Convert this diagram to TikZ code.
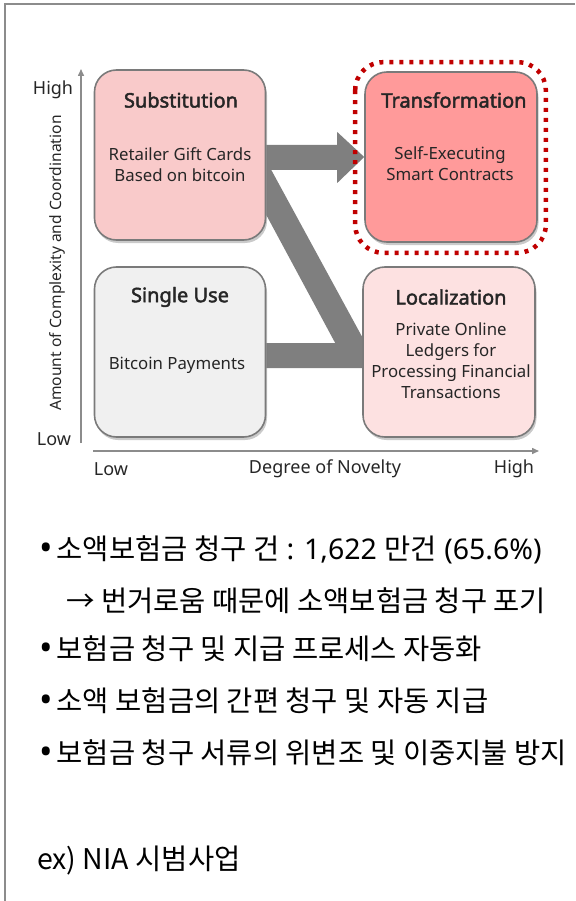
\documentclass[tikz,border=0pt]{standalone}
\usepackage{fontspec}
\setmainfont{Noto Sans}[AutoFakeBold=2.2]
\newfontfamily\kr{Noto Sans CJK KR}
\usetikzlibrary{arrows.meta,shadows,calc}
\pgfdeclarelayer{background}
\pgfsetlayers{background,main}
\definecolor{framegray}{HTML}{8C8C8C}
\definecolor{boxline}{HTML}{7A7A7A}
\definecolor{subfill}{HTML}{F9CACA}
\definecolor{transfill}{HTML}{FF9A9A}
\definecolor{singlefill}{HTML}{F0F0F0}
\definecolor{locfill}{HTML}{FDE1E1}
\definecolor{zgray}{HTML}{7F7F7F}
\definecolor{dotred}{HTML}{C00000}
\definecolor{txt}{HTML}{262626}
\tikzset{
  quadbox/.style={draw=boxline, line width=1.6pt, rounded corners=22pt,
    minimum width=171pt, minimum height=170pt, inner sep=0pt,
    drop shadow={shadow xshift=1.5pt, shadow yshift=-3pt, opacity=0.35, fill=black!60}},
  boxtitle/.style={font=\fontsize{20}{24}\selectfont\bfseries, text=txt, inner sep=0pt},
  boxbody/.style={font=\fontsize{16.8}{21}\selectfont, text=txt, align=center, inner sep=0pt},
  axisline/.style={draw=framegray, line width=1.5pt, -{Triangle[length=7pt,width=6pt]}},
  axislabel/.style={font=\fontsize{18}{21}\selectfont, text=txt, inner sep=0pt},
  krline/.style={font=\kr\fontsize{28.5}{32}\selectfont, text=black, anchor=base west, inner sep=0pt},
}
\newcommand{\krbullet}{\raisebox{-1.5pt}{\rmfamily\fontsize{36}{36}\selectfont•}\hspace{4pt}}
\newcommand{\latn}[1]{{\rmfamily\fontsize{28.5}{32}\selectfont #1}}
\begin{document}
\begin{tikzpicture}[x=1pt,y=-1pt]
\useasboundingbox (0,0) rectangle (575,901);
\draw[framegray, line width=2pt] (5,901) -- (5,4) -- (575,4);

% axes
\coordinate (yb) at (81,443);
\coordinate (yt) at (81,69);
\coordinate (xl) at (93,451);
\coordinate (xr) at (539,451);
\draw[axisline] (yb) -- (yt);
\draw[axisline] (xl) -- (xr);
\node[axislabel] (yhigh) at (53,90) {High};
\node[axislabel] (ylow) at (54,439) {Low};
\node[axislabel, font=\fontsize{15.6}{18}\selectfont, rotate=90] (ytitle) at (57,263) {Amount of Complexity and Coordination};
\node[axislabel] (xlow) at (111,469) {Low};
\node[axislabel] (xtitle) at (325,469) {Degree of Novelty};
\node[axislabel] (xhigh) at (514,469) {High};

% boxes
\node[quadbox, fill=subfill] (sub) at (180,155) {};
\node[quadbox, fill=transfill, minimum width=172pt] (trans) at (451,157) {};
\node[quadbox, fill=singlefill] (single) at (180,352) {};
\node[quadbox, fill=locfill, minimum width=172pt] (loc) at (449,352) {};

\node[boxtitle] (subT) at (181,100) {Substitution};
\node[boxbody] (subB) at (180,165) {Retailer Gift Cards\\Based on bitcoin};
\node[boxtitle] (transT) at (454,100) {Transformation};
\node[boxbody] (transB) at (450,164) {Self-Executing\\Smart Contracts};
\node[boxtitle] (singleT) at (180,297) {Single Use};
\node[boxbody] (singleB) at (177,365) {Bitcoin Payments};
\node[boxtitle] (locT) at (451,297) {Localization};
\node[boxbody] (locB) at (451,361) {Private Online\\Ledgers for\\Processing Financial\\Transactions};

% highlight
\draw[dotred, line width=4.5pt, dash pattern=on 4pt off 6pt, rounded corners=28pt]
  ($(trans.north west)+(-9,-9)$) rectangle ($(trans.south east)+(8,10)$);

% Z-shaped connector
\begin{pgfonlayer}{background}
\fill[zgray]
  ($(sub.east)+(0,-10)$) -- ($(trans.west)+(-27,-12)$) -- ($(trans.west)+(-27,-25)$)
  -- (trans.west) -- ($(trans.west)+(-27,26)$) -- ($(trans.west)+(-27,13)$)
  -- ($(sub.east)+(5,15)$) -- ($(loc.west)+(0,-15)$) -- ($(loc.west)+(0,16)$)
  -- ($(single.east)+(0,16)$) -- ($(single.east)+(0,-9)$) -- ($(loc.west)+(-27,-9)$)
  -- ($(sub.east)+(0,60)$) -- cycle;
\end{pgfonlayer}

% text lines (base west at baselines)
\node[krline] (l1) at (39,559) {\krbullet 소액보험금 청구 건\latn{ : 1,622 }만건\latn{ (65.6\%)}};
\node[krline] (l2) at (66,611) {→ 번거로움 때문에 소액보험금 청구 포기};
\node[krline] (l3) at (39,659) {\krbullet 보험금 청구 및 지급 프로세스 자동화};
\node[krline] (l4) at (39,711) {\krbullet 소액 보험금의 간편 청구 및 자동 지급};
\node[krline] (l5) at (39,763) {\krbullet 보험금 청구 서류의 위변조 및 이중지불 방지};
\node[krline] (l6) at (37,869) {ex) NIA 시범사업};
\end{tikzpicture}
\end{document}
